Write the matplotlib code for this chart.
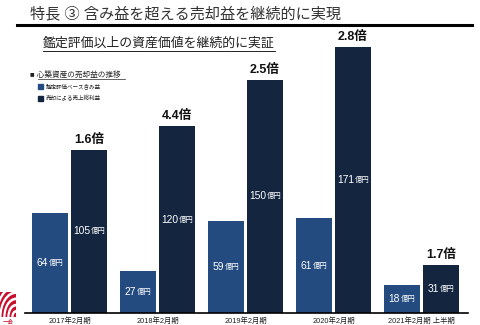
import matplotlib
matplotlib.use("Agg")
import matplotlib.pyplot as plt
import numpy as np
from matplotlib.patches import Rectangle, Wedge

plt.rcParams['font.family'] = ['Liberation Sans', 'Noto Sans CJK JP', 'DejaVu Sans']

categories = ["2017年2月期", "2018年2月期", "2019年2月期", "2020年2月期", "2021年2月期 上半期"]
unrealized = [64, 27, 59, 61, 18]      # 鑑定評価ベース含み益
realized = [105, 120, 150, 171, 31]    # 売却による売上総利益
multipliers = ["1.6倍", "4.4倍", "2.5倍", "2.8倍", "1.7倍"]
series_names = ["鑑定評価ベース含み益", "売却による売上総利益"]

LIGHT = "#234B80"
DARK = "#13253F"

W, H = 480, 325
fig = plt.figure(figsize=(W / 100, H / 100), dpi=100)

def fx(px):
    return px / W

def fy(py):
    return 1 - py / H

# main axes
ax_left, ax_right = 25, 468
ax_bottom, ax_top = 313, 30
ax = fig.add_axes([fx(ax_left), fy(ax_bottom), fx(ax_right - ax_left), (ax_bottom - ax_top) / H])
pxu = 1.555
ax.set_ylim(0, (ax_bottom - ax_top) / pxu)
spacing = 88.0
c0 = 69.5
ax.set_xlim(-(c0 - ax_left) / spacing, (ax_right - c0) / spacing)

x = np.arange(len(categories))
bw = 0.42
off = 0.2215
ax.bar(x - off, unrealized, bw, color=LIGHT, edgecolor='none', zorder=2)
ax.bar(x + off, realized, bw, color=DARK, edgecolor='none', zorder=2)

for s in ['top', 'right', 'left']:
    ax.spines[s].set_visible(False)
ax.spines['bottom'].set_linewidth(1.2)
ax.spines['bottom'].set_color('black')
ax.set_yticks([])
ax.set_xticks(x)
ax.set_xticklabels(categories, fontsize=5.3, color='#222222')
ax.tick_params(axis='x', length=0, pad=3)
ax.patch.set_alpha(0)

# value labels: number + small unit
num_texts = []
for xs, vals in ((x - off, unrealized), (x + off, realized)):
    for xi, v in zip(xs, vals):
        t1 = ax.text(xi, v / 2, str(v), color='white', fontsize=7.4, ha='left', va='center', zorder=3)
        t2 = ax.annotate("億円", xy=(1, 0.5), xycoords=t1, xytext=(0.4, -0.3), textcoords='offset points',
                         color='white', fontsize=5.3, ha='left', va='center', zorder=3)
        num_texts.append((t1, t2, xi))

fig.canvas.draw()
r = fig.canvas.get_renderer()
for t1, t2, xi in num_texts:
    e1 = t1.get_window_extent(r)
    e2 = t2.get_window_extent(r)
    total = e2.x1 - e1.x0
    x_disp = ax.transData.transform((xi, 0))[0] - total / 2
    xd = ax.transData.inverted().transform((x_disp, 0))[0]
    t1.set_x(xd)

for xi, v, m in zip(x + off, realized, multipliers):
    ax.annotate(m, xy=(xi, v), xytext=(0, 3), textcoords='offset points', ha='center', va='bottom',
                fontsize=9, fontweight='bold', color='#111111')

# title
fig.text(fx(30), fy(14), "特長 ③ 含み益を超える売却益を継続的に実現", fontsize=10.9, color='#333333',
         ha='left', va='center')
fig.add_artist(plt.Line2D([fx(17), fx(472)], [fy(25), fy(25)], color='black', linewidth=2.2))

# subtitle with underline
fig.text(fx(159), fy(43), "鑑定評価以上の資産価値を継続的に実証", fontsize=9.3, color='#222222',
         ha='center', va='center')
fig.add_artist(plt.Line2D([fx(43), fx(275)], [fy(50.5), fy(50.5)], color='#222222', linewidth=0.7))

# legend
fig.text(fx(30), fy(75), "■ 心築資産の売却益の推移", fontsize=5.5, color='#222222', ha='left', va='center')
fig.add_artist(plt.Line2D([fx(38), fx(125)], [fy(79), fy(79)], color='#222222', linewidth=0.5))
for yy, col, name in ((86, LIGHT, series_names[0]), (98, DARK, series_names[1])):
    fig.add_artist(Rectangle((fx(38), fy(yy + 2.5)), fx(5), 5 / H, color=col, transform=fig.transFigure))
    fig.text(fx(46), fy(yy), name, fontsize=4.0, color='#222222', ha='left', va='center')

# logo approximation
lax = fig.add_axes([0, fy(317), fx(16), 25 / H])
lax.set_xlim(0, 1)
lax.set_ylim(0, 1)
lax.axis('off')
lax.add_patch(Rectangle((0, 0), 1, 1, color='#C8102E'))
for rr in [1.25, 1.0, 0.75, 0.5, 0.25]:
    lax.add_patch(Wedge((1.0, 0.0), rr, 90, 180, width=0.05, color='white'))
fig.text(fx(8), fy(322), "一会", fontsize=4, color='#C8102E', ha='center', va='center')

fig.savefig("out.png", dpi=100)
